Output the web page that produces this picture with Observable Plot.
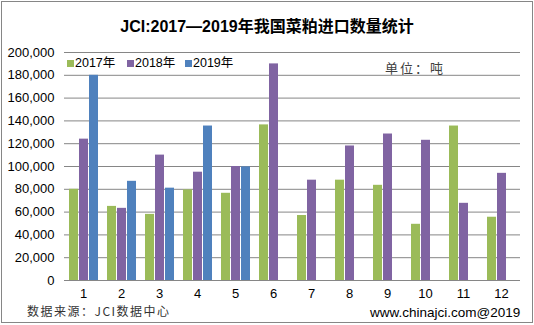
<!DOCTYPE html>
<html>
<head>
<meta charset="utf-8">
<script src="https://cdn.jsdelivr.net/npm/d3@7"></script>
<script src="https://cdn.jsdelivr.net/npm/@observablehq/plot@0.6"></script>
<style>
  html, body { margin: 0; padding: 0; background: #fff; }
  #wrap { position: relative; width: 534px; height: 325px; overflow: hidden; font-family: "Liberation Sans", Arial, "Noto Sans CJK SC", sans-serif; }
  #frame { position: absolute; left: 1px; top: 1px; width: 530px; height: 320px; border: 1px solid #868686; }
  #chart { position: absolute; left: 0; top: 0; }
  .abs { position: absolute; white-space: nowrap; }
  #title { left: 0; top: 17px; width: 534px; text-align: center; font-size: 16px; line-height: 20px; font-weight: bold; color: #000; font-family: "Liberation Sans", Arial, "Noto Sans CJK SC", sans-serif; }
  .leg { top: 56px; font-size: 12.5px; line-height: 14px; color: #000; display: flex; align-items: center; }
  .leg i { display: inline-block; width: 7px; height: 7px; margin-right: 1px; }
  #unit { left: 385px; top: 60px; font-size: 13px; line-height: 16px; letter-spacing: 2px; color: #404040; font-family: "Noto Sans CJK SC", sans-serif; }
  #src { left: 27px; top: 303px; font-size: 12px; line-height: 16px; letter-spacing: 1.5px; color: #333; font-family: "Noto Sans CJK SC", sans-serif; }
  #site { left: 370px; top: 305px; font-size: 13.5px; line-height: 16px; color: #000; font-family: "Liberation Sans", Arial, sans-serif; }
</style>
</head>
<body>
<div id="wrap">
  <div id="chart"></div>
  <div id="frame"></div>
  <div id="title" class="abs">JCI:2017—2019年我国菜粕进口数量统计</div>
  <div id="legend"></div>
  <div id="unit" class="abs">单位：吨</div>
  <div id="src" class="abs">数据来源：JCI数据中心</div>
  <div id="site" class="abs">www.chinajci.com@2019</div>
</div>
<script>
const months = [1, 2, 3, 4, 5, 6, 7, 8, 9, 10, 11, 12];
const years = ["2017年", "2018年", "2019年"];
const colors = ["#9BBB59", "#8064A2", "#4F81BD"];
const v2017 = [80000, 65000, 58000, 79500, 76500, 136500, 57000, 88000, 83500, 49300, 135500, 55500];
const v2018 = [124000, 63300, 110000, 95000, 100000, 190000, 88000, 118000, 128500, 123000, 67700, 94000];
const v2019 = [180000, 87000, 81000, 135500, 99700];
const yTicks = [0, 20000, 40000, 60000, 80000, 100000, 120000, 140000, 160000, 180000, 200000];

const series = [v2017, v2018, v2019];
const data = [];
series.forEach((vals, i) => {
  vals.forEach((v, j) => data.push({ month: months[j], year: years[i], value: v }));
});

const chart = Plot.plot({
  width: 534,
  height: 325,
  marginLeft: 60,
  marginRight: 10,
  marginTop: 52,
  marginBottom: 45,
  style: { fontSize: "13px", fontFamily: "Liberation Sans, Arial, sans-serif", color: "#000", background: "transparent" },
  fx: { domain: months, padding: 0, axis: "bottom", tickSize: 0, tickPadding: 8, label: null },
  x: { domain: years, axis: null, paddingInner: 0.1, paddingOuter: 0.355 },
  y: { domain: [0, 200000], ticks: yTicks, tickFormat: d3.format(","), tickSize: 0, tickPadding: 10, label: null },
  color: { domain: years, range: colors },
  marks: [
    Plot.ruleY(yTicks, { stroke: "#868686", strokeWidth: 1 }),
    Plot.barY(data, { fx: "month", x: "year", y: "value", fill: "year" })
  ]
});
document.getElementById("chart").appendChild(chart);

const legend = document.getElementById("legend");
const legLeft = [67, 127, 185];
years.forEach((y, i) => {
  const d = document.createElement("div");
  d.className = "abs leg";
  d.style.left = legLeft[i] + "px";
  d.innerHTML = `<i style="background:${colors[i]}"></i><span>${y}</span>`;
  legend.appendChild(d);
});
</script>
</body>
</html>
